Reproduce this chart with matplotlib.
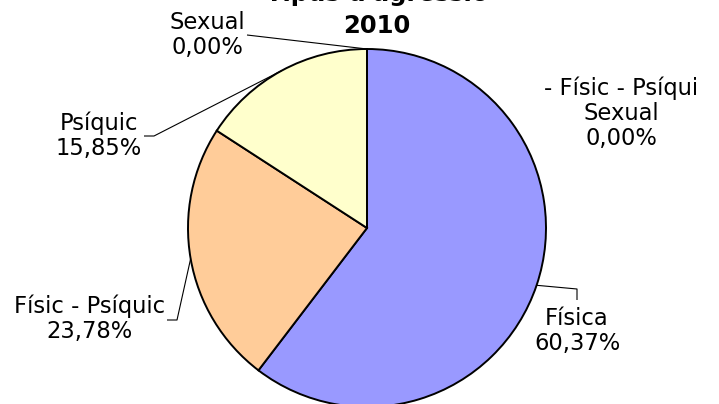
import numpy as np
import matplotlib
matplotlib.use("Agg")
import matplotlib.pyplot as plt

# Data: share of each aggression type, 2010
categories = ["Física", "Físic - Psíquic", "Psíquic", "Sexual", "- Físic - Psíqui\nSexual"]
values = [60.37, 23.78, 15.85, 0.00, 0.00]
colors = ["#9999FF", "#FFCC99", "#FFFFCC", "#FFFFFF", "#FFFFFF"]
title_lines = ["Tipus d'agressió", "2010"]

W, H = 719, 404
fig = plt.figure(figsize=(W / 100, H / 100), dpi=100)
ax = fig.add_axes([0, 0, 1, 1])

cx, cy, r = 367, H - 228, 179
wedges, _ = ax.pie(values, colors=colors, startangle=90, counterclock=False,
                   center=(cx, cy), radius=r, frame=True,
                   wedgeprops=dict(edgecolor="black", linewidth=1.4))
ax.set_xlim(0, W)
ax.set_ylim(0, H)
ax.set_aspect("equal")
ax.axis("off")

FS = 16.3
fam = "DejaVu Sans"

def fmt(v):
    return f"{v:.2f}".replace(".", ",") + "%"

def mid_point(w):
    a = np.deg2rad((w.theta1 + w.theta2) / 2)
    return cx + r * np.cos(a), cy + r * np.sin(a)

# label centre positions (x, y) and leader paths ending at the wedge
label_pos = {
    "Física": (577, H - 331),
    "Físic - Psíquic": (90, H - 319),
    "Psíquic": (99, H - 136),
    "Sexual": (207, H - 35),
    "- Físic - Psíqui\nSexual": (621, H - 113),
}
leader_start = {
    "Física": [(577, H - 300), (577, H - 289)],
    "Físic - Psíquic": [(167, H - 320), (177, H - 320)],
    "Psíquic": [(144, H - 136), (154, H - 136)],
    "Sexual": [(247, H - 35)],
    "- Físic - Psíqui\nSexual": None,
}

for w, cat, v in zip(wedges, categories, values):
    x, y = label_pos[cat]
    ax.text(x, y, f"{cat}\n{fmt(v)}", ha="center", va="center",
            fontsize=FS, family=fam, color="black", linespacing=1.12)
    pts = leader_start[cat]
    if pts:
        px, py = mid_point(w)
        if cat == "Sexual":
            px, py = cx, cy + r
        xs = [p[0] for p in pts] + [px]
        ys = [p[1] for p in pts] + [py]
        ax.plot(xs, ys, color="black", lw=0.8, solid_capstyle="butt")

fig.text(377 / W, (H - 1.5) / H, title_lines[0], ha="center", va="baseline",
         fontsize=17.5, fontweight="bold", family=fam)
fig.text(377 / W, (H - 33) / H, title_lines[1], ha="center", va="baseline",
         fontsize=17.5, fontweight="bold", family=fam)

fig.savefig("out.png", dpi=100, facecolor="white")
